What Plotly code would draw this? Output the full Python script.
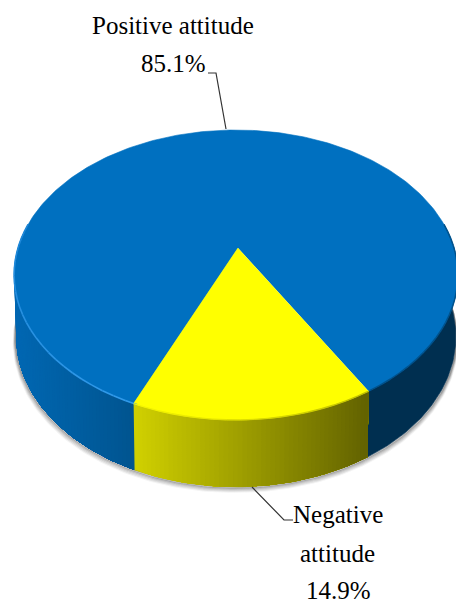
import math
import plotly.graph_objects as go

labels = ["Positive attitude", "Negative attitude"]
values = [85.1, 14.9]
blue = "#0070C0"
yellow = "#FFFF00"
start_deg = -22.9   # where the Negative slice begins, measured from the front of the disc

W, H = 456, 604
K = 0.186

def top(theta):
    u, v = math.sin(theta), -math.cos(theta)
    d = 1 + K * v
    return 236 + 218 * u / d, (248 - 93.8 * v) / d

def bottom(theta):
    u, v = math.sin(theta), -math.cos(theta)
    d = 1 + K * v
    return 236 + 216 * u / d, (309 - 87.3 * v) / d

def mix(a, b, t):
    t = max(0, min(1, t))
    return tuple(a[i] + (b[i] - a[i]) * t for i in range(3))

def rgb(c):
    return "rgb(%d,%d,%d)" % tuple(round(x) for x in c)

def degs(a, b, step=1.0):
    n = max(1, int(abs(b - a) / step))
    return [math.radians(a + (b - a) * i / n) for i in range(n + 1)]

neg_sweep = 360 * values[1] / sum(values)
y0, y1 = start_deg, start_deg + neg_sweep

def side_colour(deg, x):
    if y0 <= deg <= y1:
        t = (x - 136) / (365 - 136)
        return mix((207, 207, 0), (98, 98, 0), t)
    if deg > y1 and deg < 180:
        return (0, 47, 80)
    return mix((0, 103, 178), (0, 84, 143), (x - 17) / (134 - 17))

fig = go.Figure()

def poly(pts, colour, lw=0.6):
    fig.add_trace(go.Scatter(
        x=[p[0] for p in pts], y=[p[1] for p in pts], mode="lines", fill="toself",
        fillcolor=colour, line=dict(color=colour, width=lw), hoverinfo="skip", showlegend=False))

def line(pts, colour, width):
    fig.add_trace(go.Scatter(
        x=[p[0] for p in pts], y=[p[1] for p in pts], mode="lines",
        line=dict(color=colour, width=width), hoverinfo="skip", showlegend=False))

# soft shadow below the side wall
rim = degs(-95, 95)
for off, alpha in [(5, 0.06), (4, 0.1), (3, 0.15), (2, 0.22), (1, 0.3)]:
    pts = [(bottom(t)[0] + (off * 0.3 if math.degrees(t) > 0 else -off * 0.5),
            bottom(t)[1] + off) for t in rim]
    line(pts, "rgba(60,60,60,%.2f)" % alpha, 2)

# side wall: solid base per slice, then overlapping colour strips that run left to right
def wall(a, b, colour):
    ts = degs(a, b)
    poly([top(t) for t in ts] + [bottom(t) for t in reversed(ts)], colour)

wall(-100, y0, rgb((0, 95, 160)))
wall(y0, y1, rgb((150, 150, 0)))
wall(y1, 100, rgb((0, 47, 80)))

def gradient(a, b):
    # each strip reaches to the end of the slice, so no seam can show between neighbours
    steps = int(b - a)
    for i in range(steps):
        s = a + (b - a) * i / steps
        xm = bottom(math.radians(s))[0]
        ts = degs(s, b)
        poly([top(t) for t in ts] + [bottom(t) for t in reversed(ts)],
             rgb(side_colour((s + b) / 2 if False else s + 0.01, xm)), 0)

gradient(-100, y0)
gradient(y0, y1)

# top face
poly([top(t) for t in degs(y1, y0 + 360)] + [(238, 248)], blue)
poly([(238, 248)] + [top(t) for t in degs(y0, y1)], yellow)

# bevel along the rim
for a, b in zip(range(-100, 30, 3), range(-97, 33, 3)):
    if b <= y0 + 1:
        f = (a + 100) / 77
        line([top(math.radians(a)), top(math.radians(b))], rgb(mix((30, 135, 215), (50, 155, 235), f)), 1.6)
for a, b in zip(range(int(y1) + 1, 100, 3), range(int(y1) + 4, 103, 3)):
    line([top(math.radians(a)), top(math.radians(b))], "rgb(0,82,140)", 1.5)
edges = [y0 + (y1 - y0) * i / 18 for i in range(19)]
for a, b in zip(edges, edges[1:]):
    f = (a - y0) / (y1 - y0)
    line([top(math.radians(a)), top(math.radians(b))], rgb(mix((245, 245, 0), (190, 190, 0), f)), 1.4)

text_rows = [
    ("Positive attitude", 173, 25),
    ("85.1%", 173, 63),
    ("Negative", 338, 514),
    ("attitude", 337, 553),
    ("14.9%", 338, 590),
]
annotations = [
    dict(x=x, y=y, text=t, showarrow=False, xanchor="center", yanchor="middle",
         font=dict(family="Liberation Serif", size=25, color="#000000"))
    for t, x, y in text_rows
]

leaders = [
    "M 208 73 L 216 73 L 226 129",
    "M 252 487 L 284 520 L 293 520",
]
shapes = [dict(type="path", path=p, xref="x", yref="y", line=dict(color="#333333", width=1.2))
          for p in leaders]

fig.update_layout(
    width=W, height=H, margin=dict(l=0, r=0, t=0, b=0),
    paper_bgcolor="white", plot_bgcolor="white", showlegend=False,
    xaxis=dict(range=[0, W], visible=False, fixedrange=True),
    yaxis=dict(range=[H, 0], visible=False, fixedrange=True),
    annotations=annotations, shapes=shapes,
)
fig.write_html("out.html", config={"displayModeBar": False},
               post_script="document.body.style.margin='0';")
